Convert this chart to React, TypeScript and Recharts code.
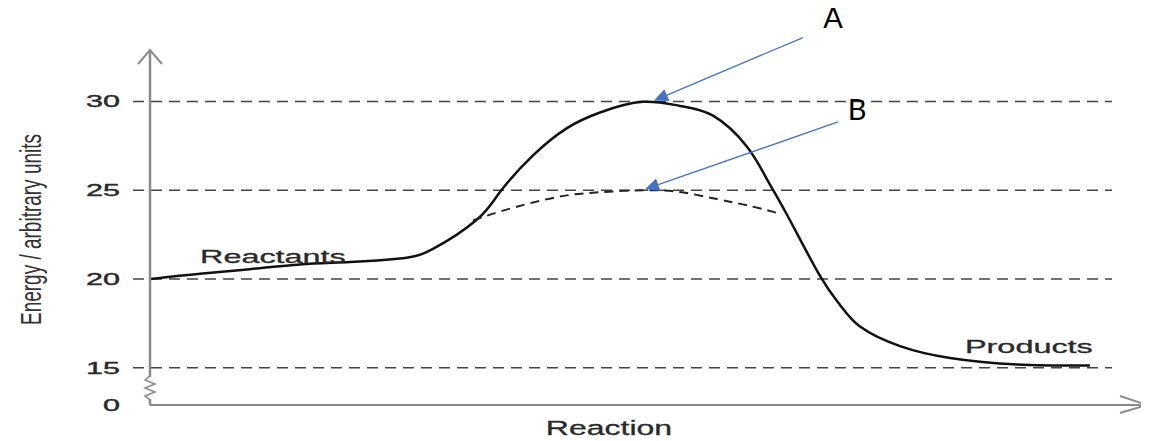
import React from "react";
import {
  LineChart,
  Line,
  XAxis,
  YAxis,
  ReferenceLine,
  ReferenceDot,
} from "recharts";

// reaction coordinate (0 = start, ~100 = end of axis)
const reactionX = [0, 5, 10, 15, 20, 25, 28.3, 32.7, 35, 38.3, 41.7, 45, 49.3, 53, 56.3, 59.7, 61.7, 63.7, 67, 69, 71, 75, 80, 86.7, 94];
const uncatalysedEnergy = [20.0, 20.3, 20.55, 20.82, 20.95, 21.15, 21.7, 23.35, 24.9, 26.96, 28.5, 29.38, 29.98, 29.75, 29.2, 27.45, 25.61, 23.62, 20.17, 18.54, 17.32, 16.22, 15.55, 15.18, 15.12];

const catalysedX = [32.3, 35, 38.3, 41.7, 45, 49.3, 53, 56.7, 59.7, 63];
const catalysedEnergy = [23.3, 23.8, 24.31, 24.71, 24.89, 25.0, 24.9, 24.5, 24.15, 23.68];

const gridLevels = [15, 20, 25, 30];
const yTicks = [12.9, 15, 20, 25, 30];
const yTickLabels = ["0", "15", "20", "25", "30"];

const solidData = reactionX.map((x, i) => ({ x, e: uncatalysedEnergy[i] }));
const dashedData = catalysedX.map((x, i) => ({ x, e: catalysedEnergy[i] }));

const FONT = "'Liberation Sans', Arial, sans-serif";
const STRETCH = 1.8;
const AXIS_GREY = "#8a8a8a";
const BLUE = "#4472C4";

const YTick = (props: any) => {
  const { x, y, payload, index } = props;
  return (
    <text
      transform={`translate(${x},${y}) scale(${STRETCH},1)`}
      textAnchor="end"
      dominantBaseline="central"
      fontSize={17}
      fontFamily={FONT}
      fill="#2a2a2a"
      stroke="#2a2a2a"
      strokeWidth={0.4}
    >
      {yTickLabels[index] ?? payload.value}
    </text>
  );
};

const stretchedText = (label: string) => (props: any) => {
  const { cx, cy } = props;
  return (
    <text
      transform={`translate(${cx},${cy}) scale(${STRETCH},1)`}
      fontSize={18}
      fontFamily={FONT}
      fill="#2a2a2a"
      stroke="#2a2a2a"
      strokeWidth={0.3}
    >
      {label}
    </text>
  );
};

const blueArrow = (label: string, dx: number, dy: number) => (props: any) => {
  const { x1, y1, x2, y2 } = props;
  const a = Math.atan2(y2 - y1, x2 - x1);
  const L = 14;
  const W = 6.5;
  const bx = x2 - L * Math.cos(a);
  const by = y2 - L * Math.sin(a);
  const px = -Math.sin(a) * W;
  const py = Math.cos(a) * W;
  return (
    <g>
      <line x1={x1} y1={y1} x2={bx} y2={by} stroke={BLUE} strokeWidth={1.3} />
      <polygon points={`${x2},${y2} ${bx + px},${by + py} ${bx - px},${by - py}`} fill={BLUE} />
      <text x={x1 + dx} y={y1 + dy} textAnchor="middle" fontSize={29} fontFamily="Lato, 'Open Sans', sans-serif" fill="#000">
        {label}
      </text>
    </g>
  );
};

const axisBreak = (props: any) => {
  const { cx, cy } = props;
  return (
    <g>
      <rect x={cx - 3} y={cy - 11} width={6} height={22} fill="#fff" />
      <path
        d={`M${cx},${cy - 12} l-5,4 l10,4 l-10,4 l10,4 l-10,4 l5,4`}
        fill="none"
        stroke={AXIS_GREY}
        strokeWidth={1.5}
      />
    </g>
  );
};

const upArrow = (props: any) => {
  const { cx, cy } = props;
  return <path d={`M${cx - 12},${cy + 14} L${cx},${cy} L${cx + 12},${cy + 14}`} fill="none" stroke={AXIS_GREY} strokeWidth={2} />;
};

const rightArrow = (props: any) => {
  const { cx, cy } = props;
  return <path d={`M${cx - 28},${cy - 9} L${cx - 1},${cy} L${cx - 28},${cy + 8}`} fill="none" stroke={AXIS_GREY} strokeWidth={2} />;
};

export default function App() {
  return (
    <div style={{ width: 1141, height: 441, marginTop: -8, background: "#fff" }}>
      <LineChart width={1141} height={441} margin={{ top: 50, right: 1, bottom: 0, left: 0 }}>
        <XAxis
          dataKey="x"
          type="number"
          domain={[0, 99.8]}
          tick={false}
          tickLine={false}
          height={36}
          axisLine={{ stroke: AXIS_GREY, strokeWidth: 2 }}
          label={{
            value: "Reaction",
            content: (p: any) => (
              <text
                transform={`translate(${p.viewBox.x + 459},${p.viewBox.y + 30}) scale(1.6,1)`}
                textAnchor="middle"
                fontSize={20}
                fontFamily={FONT}
                fill="#2a2a2a"
                stroke="#2a2a2a"
                strokeWidth={0.3}
              >
                Reaction
              </text>
            ),
          }}
        />
        <YAxis
          type="number"
          domain={[12.9, 32.9]}
          ticks={yTicks}
          width={142}
          tickLine={false}
          tickSize={0}
          tickMargin={30}
          tick={<YTick />}
          interval={0}
          axisLine={{ stroke: AXIS_GREY, strokeWidth: 2.5 }}
          label={{
            value: "Energy / arbitrary units",
            content: (p: any) => (
              <text
                transform={`translate(${p.viewBox.x + 22},${p.viewBox.y + p.viewBox.height / 2 + 2}) rotate(-90) scale(1,1.6)`}
                textAnchor="middle"
                dominantBaseline="central"
                fontSize={19}
                fontFamily={FONT}
                fill="#333"
              >
                Energy / arbitrary units
              </text>
            ),
          }}
        />
        {gridLevels.map((g) => (
          <ReferenceLine
            key={g}
            segment={[{ x: -1.7, y: g }, { x: 96.2, y: g }]}
            ifOverflow="visible"
            stroke="#444"
            strokeWidth={1.5}
            strokeDasharray="11 7"
          />
        ))}
        <ReferenceDot x={0} y={13.86} r={0} ifOverflow="visible" shape={axisBreak} />
        <ReferenceDot x={0} y={32.9} r={0} ifOverflow="visible" shape={upArrow} />
        <ReferenceDot x={99.8} y={12.9} r={0} ifOverflow="visible" shape={rightArrow} />
        <Line
          data={solidData}
          dataKey="e"
          type="natural"
          stroke="#111"
          strokeWidth={2.5}
          dot={false}
          isAnimationActive={false}
        />
        <Line
          data={dashedData}
          dataKey="e"
          type="natural"
          stroke="#222"
          strokeWidth={2}
          strokeDasharray="9 6"
          dot={false}
          isAnimationActive={false}
        />
        <ReferenceDot x={5} y={20.9} r={0} ifOverflow="visible" shape={stretchedText("Reactants")} />
        <ReferenceDot x={81.5} y={15.85} r={0} ifOverflow="visible" shape={stretchedText("Products")} />
        <ReferenceLine
          segment={[{ x: 65.3, y: 33.6 }, { x: 50.4, y: 30.05 }]}
          ifOverflow="visible"
          shape={blueArrow("A", 30, -10)}
        />
        <ReferenceLine
          segment={[{ x: 68.8, y: 28.85 }, { x: 49.5, y: 25.05 }]}
          ifOverflow="visible"
          shape={blueArrow("B", 19, -2)}
        />
      </LineChart>
    </div>
  );
}
